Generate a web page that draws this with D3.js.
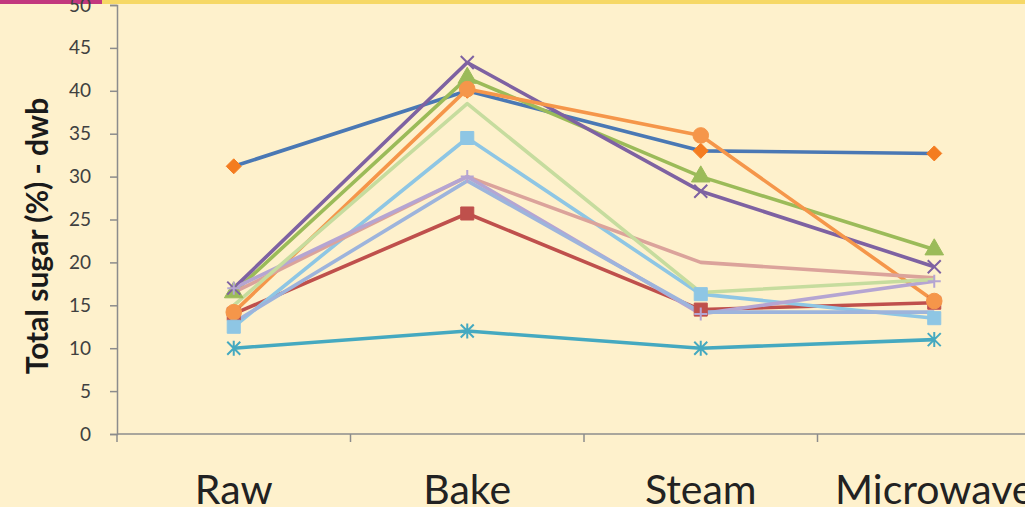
<!DOCTYPE html>
<html>
<head>
<meta charset="utf-8">
<script src="https://cdn.jsdelivr.net/npm/d3@7/dist/d3.min.js"></script>
<style>
  html, body { margin: 0; padding: 0; background: #fef1cc; }
  svg { display: block; }
</style>
</head>
<body>
<svg id="chart" width="1025" height="507"></svg>
<script>
// Cooking methods on the x axis
const categories = ["Raw", "Bake", "Steam", "Microwave"];

// Total sugar (% dry weight basis) per sample, one array per line
const s1 = [31.2, 40.0, 33.0, 32.7];
const s2 = [14.0, 25.7, 14.5, 15.3];
const s3 = [16.5, 41.5, 30.0, 21.5];
const s4 = [17.0, 43.3, 28.3, 19.5];
const s5 = [10.0, 12.0, 10.0, 11.0];
const s6 = [14.2, 40.2, 34.8, 15.5];
const s7 = [12.5, 34.5, 16.3, 13.5];
const s8 = [16.5, 30.0, 20.0, 18.2];
const s9 = [17.0, 30.0, 14.0, 17.8];
const s10 = [15.0, 38.5, 16.5, 18.0];
const s11 = [13.0, 29.5, 14.2, 14.2];

const yTicks = [0, 5, 10, 15, 20, 25, 30, 35, 40, 45, 50];

const series = [
  { values: s1,  line: "#4a78b4", marker: "diamond",  fill: "#f47c20" },
  { values: s2,  line: "#bf504c", marker: "square",   fill: "#bf504c" },
  { values: s3,  line: "#9bbb59", marker: "triangle", fill: "#9bbb59" },
  { values: s4,  line: "#7e62a2", marker: "x",        fill: "#7e62a2" },
  { values: s5,  line: "#45a9c0", marker: "star",     fill: "#45a9c0" },
  { values: s6,  line: "#f5964a", marker: "circle",   fill: "#f5964a" },
  { values: s7,  line: "#8ec6e4", marker: "square",   fill: "#8ec6e4" },
  { values: s8,  line: "#dba39b", marker: "none",     fill: "#dba39b" },
  { values: s9,  line: "#b5a5d2", marker: "plus",     fill: "#b5a5d2" },
  { values: s10, line: "#c6dc9e", marker: "none",     fill: "#c6dc9e" },
  { values: s11, line: "#9db4dc", marker: "none",     fill: "#9db4dc" }
];

const svg = d3.select("#chart");
const W = 1025, H = 507;

svg.append("rect").attr("width", W).attr("height", H).attr("fill", "#fef1cc");

// decorative top strip
svg.append("rect").attr("x", 0).attr("y", 0).attr("width", W).attr("height", 4).attr("fill", "#f6d866");
svg.append("rect").attr("x", 0).attr("y", 0).attr("width", 102).attr("height", 4).attr("fill", "#c2387e");

const left = 117, bottom = 434;
const x = d3.scaleBand().domain(categories).range([left, 1051]).padding(0);
const y = d3.scaleLinear().domain([0, 50]).range([bottom, 5]);
const cx = c => x(c) + x.bandwidth() / 2;

const font = "Lato, 'Open Sans', sans-serif";

// y axis
const yAxis = svg.append("g").attr("transform", `translate(${left},0)`)
  .call(d3.axisLeft(y).tickValues(yTicks).tickSize(7).tickPadding(19));
yAxis.select(".domain").attr("stroke", "#8c8c8c").attr("stroke-width", 1.5);
yAxis.selectAll(".tick line").attr("stroke", "#8c8c8c").attr("stroke-width", 1.5);
yAxis.selectAll(".tick text")
  .attr("fill", "#404040")
  .style("font-family", font)
  .style("font-size", "19px");

// x axis (ticks sit between categories)
const xAxis = svg.append("g").attr("transform", `translate(0,${bottom})`);
xAxis.append("line").attr("x1", left).attr("x2", 1051).attr("y1", 0).attr("y2", 0)
  .attr("stroke", "#8c8c8c").attr("stroke-width", 1.5);
const bounds = categories.map(c => x(c));
xAxis.selectAll("line.tk").data(bounds).join("line").attr("class", "tk")
  .attr("x1", d => d).attr("x2", d => d).attr("y1", 0).attr("y2", 8)
  .attr("stroke", "#8c8c8c").attr("stroke-width", 1.5);
xAxis.selectAll("text").data(categories).join("text")
  .attr("x", d => cx(d)).attr("y", 70)
  .attr("text-anchor", "middle")
  .attr("fill", "#222222")
  .style("font-family", font)
  .style("font-size", "41px")
  .text(d => d);

// y title
svg.append("text")
  .attr("transform", `translate(48,236) rotate(-90)`)
  .attr("text-anchor", "middle")
  .attr("fill", "#1a1a1a")
  .style("font-family", font)
  .style("font-weight", "bold")
  .style("font-size", "30px")
  .text("Total sugar (%) - dwb");

// lines
const lineGen = d3.line().x((d, i) => cx(categories[i])).y(d => y(d));
const plot = svg.append("g");
series.forEach(s => {
  plot.append("path").datum(s.values)
    .attr("d", lineGen)
    .attr("fill", "none")
    .attr("stroke", s.line)
    .attr("stroke-width", 3.6)
    .attr("stroke-linejoin", "round");
});

// markers
function markerPath(type) {
  const r = 6.5;
  switch (type) {
    case "diamond": return `M0,-7.5L7.5,0L0,7.5L-7.5,0Z`;
    case "square": return d3.symbol(d3.symbolSquare, 170)();
    case "triangle": return d3.symbol(d3.symbolTriangle, 150)();
    case "circle": return d3.symbol(d3.symbolCircle, 190)();
    case "x": return `M${-r},${-r}L${r},${r}M${-r},${r}L${r},${-r}`;
    case "plus": return `M0,${-r}L0,${r}M${-r},0L${r},0`;
    case "star": return `M${-r},${-r}L${r},${r}M${-r},${r}L${r},${-r}M0,${-r - 1}L0,${r + 1}`;
    default: return null;
  }
}
series.forEach(s => {
  if (s.marker === "none") return;
  const stroked = ["x", "plus", "star"].includes(s.marker);
  plot.selectAll(null).data(s.values).join("path")
    .attr("transform", (d, i) => `translate(${cx(categories[i])},${y(d)})`)
    .attr("d", markerPath(s.marker))
    .attr("fill", stroked ? "none" : s.fill)
    .attr("stroke", s.fill)
    .attr("stroke-width", stroked ? 2 : 1);
});
</script>
</body>
</html>
